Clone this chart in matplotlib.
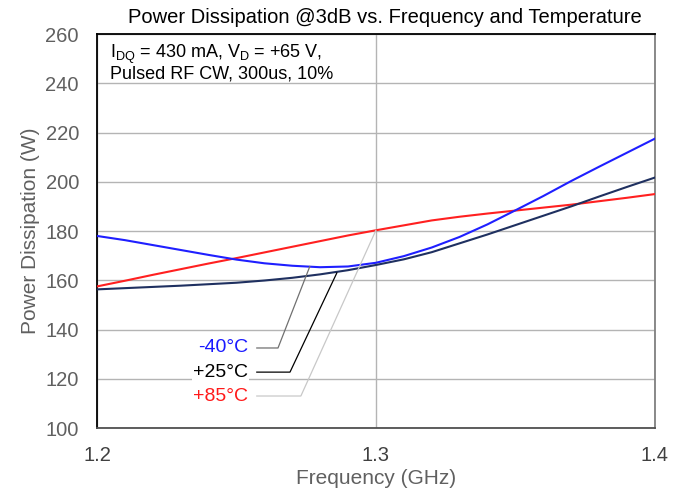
import matplotlib.pyplot as plt

plt.rcParams['font.family'] = ['Liberation Sans', 'DejaVu Sans']

# frequency (GHz)
freq = [1.20, 1.21, 1.22, 1.23, 1.24, 1.25, 1.26, 1.27, 1.28, 1.29, 1.30,
        1.31, 1.32, 1.33, 1.34, 1.35, 1.36, 1.37, 1.38, 1.39, 1.40]
# power dissipation (W)
pd_m40 = [178.0, 176.3, 174.3, 172.3, 170.3, 168.4, 166.9, 165.9, 165.3, 165.6, 167.1,
          169.8, 173.3, 177.6, 182.7, 188.4, 194.2, 200.3, 206.1, 211.8, 217.5]
pd_p25 = [156.3, 156.8, 157.3, 157.8, 158.4, 159.0, 159.9, 161.0, 162.4, 164.1, 166.2,
          168.5, 171.4, 175.0, 178.6, 182.4, 186.2, 190.0, 194.0, 197.9, 201.7]
pd_p85 = [157.5, 159.8, 162.2, 164.5, 166.8, 169.0, 171.3, 173.6, 175.9, 178.2, 180.3,
          182.3, 184.3, 185.8, 187.1, 188.3, 189.5, 190.7, 192.1, 193.5, 195.0]

labels = ['-40°C', '+25°C', '+85°C']
label_colors = ['#1a1aff', 'black', '#ff1a1a']
# leader lines: label anchor -> knee -> point on curve (data units)
leader_from = [(1.2573, 132.5), (1.2573, 122.7), (1.2573, 113.0)]
leader_knee = [(1.2649, 132.5), (1.2692, 122.7), (1.2731, 113.0)]
leader_to = [(1.2763, 165.6), (1.2860, 163.0), (1.3000, 180.3)]
leader_colors = ['#707070', 'black', '#c8c8c8']

fig = plt.figure(figsize=(6.8, 4.93), dpi=100)
ax = fig.add_axes([0.1426, 0.1318, 0.8204, 0.7992])

ax.plot(freq, pd_m40, color='#1f1fff', lw=1.5, zorder=4, solid_joinstyle='round')
ax.plot(freq, pd_p25, color='#1f3060', lw=1.5, zorder=4, solid_joinstyle='round')
ax.plot(freq, pd_p85, color='#ff2020', lw=1.5, zorder=3, solid_joinstyle='round')

for i in range(3):
    # white strip behind the horizontal part of the leader (hides grid)
    ax.plot([1.2541, leader_knee[i][0]], [leader_from[i][1], leader_knee[i][1]],
            color='white', lw=4, zorder=4.5, solid_capstyle='butt')
    xs = [leader_from[i][0], leader_knee[i][0], leader_to[i][0]]
    ys = [leader_from[i][1], leader_knee[i][1], leader_to[i][1]]
    ax.plot(xs, ys, color=leader_colors[i], lw=0.9, zorder=5)
    ax.text(1.2541, leader_from[i][1], labels[i], color=label_colors[i],
            fontsize=14, ha='right', va='center', zorder=6,
            bbox=dict(facecolor='white', edgecolor='none', pad=1))

ax.text(1.2048, 256.5, 'I$_{\\mathregular{DQ}}$ = 430 mA, V$_{\\mathregular{D}}$ = +65 V,\nPulsed RF CW, 300us, 10%',
        fontsize=13, ha='left', va='top', linespacing=1.0, zorder=6)

ax.set_xlim(1.2, 1.4)
ax.set_ylim(100, 260)
ax.set_xticks([1.2, 1.3, 1.4])
ax.set_xticklabels(['1.2', '1.3', '1.4'])
ax.set_yticks(range(100, 261, 20))
ax.tick_params(axis='y', length=0, pad=13, labelsize=14.5, labelcolor='#606060')
ax.tick_params(axis='x', length=0, pad=13, labelsize=14.5, labelcolor='#404040')
ax.grid(True, color='#b4b4b4', lw=1.0)
ax.set_axisbelow(True)

ax.spines['left'].set_color('black')
ax.spines['top'].set_color('black')
ax.spines['bottom'].set_color('#505050')
ax.spines['right'].set_color('#808080')
for s in ax.spines.values():
    s.set_linewidth(1.3)

ax.set_xlabel('Frequency (GHz)', fontsize=15, color='#606060', labelpad=3)
ax.set_ylabel('Power Dissipation (W)', fontsize=15, color='#606060', labelpad=4)
fig.text(0.566, 0.965, 'Power Dissipation @3dB vs. Frequency and Temperature',
         fontsize=14.5, ha='center', va='center')

fig.savefig('out.png', dpi=100)
